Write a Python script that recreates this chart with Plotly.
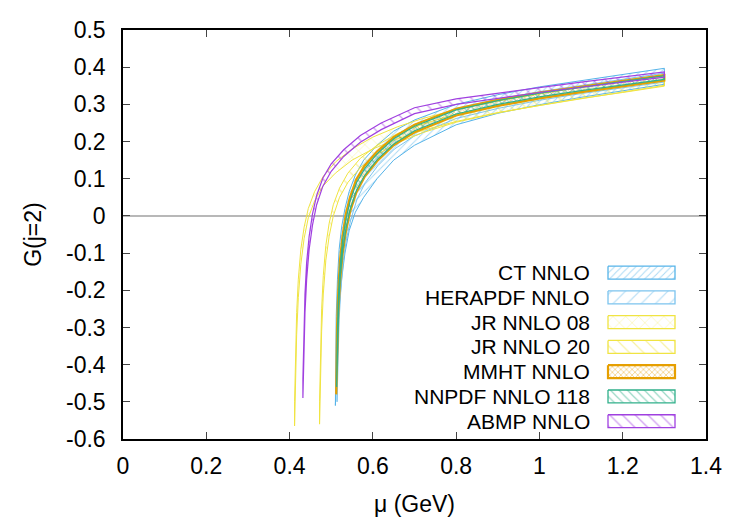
import plotly.graph_objects as go

# ---------------- data ----------------
set_names = ["CT NNLO", "HERAPDF NNLO", "JR NNLO 08", "JR NNLO 20",
             "MMHT NNLO", "NNPDF NNLO 118", "ABMP NNLO"]

mu_ct = [0.510, 0.512, 0.515, 0.519, 0.525, 0.533, 0.543, 0.558, 0.578, 0.61, 0.65, 0.70, 0.80, 0.90, 1.00, 1.10, 1.20, 1.30]
lo_ct = [-0.51, -0.42, -0.33, -0.25, -0.17, -0.10, -0.04, 0.01, 0.05, 0.10, 0.15, 0.19, 0.245, 0.276, 0.299, 0.319, 0.337, 0.354]
up_ct = [-0.40, -0.27, -0.17, -0.09, -0.03, 0.02, 0.065, 0.11, 0.15, 0.19, 0.228, 0.258, 0.300, 0.326, 0.347, 0.365, 0.381, 0.397]

mu_hera = [0.514, 0.516, 0.519, 0.523, 0.529, 0.537, 0.547, 0.562, 0.582, 0.612, 0.652, 0.70, 0.80, 0.90, 1.00, 1.10, 1.20, 1.30]
lo_hera = [-0.50, -0.38, -0.28, -0.20, -0.12, -0.06, -0.01, 0.045, 0.09, 0.135, 0.18, 0.215, 0.262, 0.289, 0.311, 0.329, 0.345, 0.36]
up_hera = [-0.42, -0.30, -0.20, -0.12, -0.055, 0.0, 0.05, 0.097, 0.135, 0.175, 0.215, 0.246, 0.289, 0.314, 0.334, 0.351, 0.367, 0.384]

mu_jr08 = [0.412, 0.414, 0.417, 0.421, 0.427, 0.435, 0.445, 0.46, 0.48, 0.51, 0.55, 0.60, 0.66, 0.72, 0.80, 0.90, 1.00, 1.10, 1.20, 1.30]
lo_jr08 = [-0.565, -0.44, -0.32, -0.22, -0.13, -0.06, -0.005, 0.04, 0.08, 0.115, 0.15, 0.18, 0.208, 0.23, 0.254, 0.278, 0.298, 0.316, 0.332, 0.349]
up_jr08 = [-0.50, -0.37, -0.26, -0.17, -0.09, -0.03, 0.02, 0.065, 0.105, 0.145, 0.18, 0.212, 0.24, 0.262, 0.286, 0.309, 0.328, 0.346, 0.362, 0.376]

mu_jr20 = [0.472, 0.474, 0.477, 0.481, 0.487, 0.495, 0.505, 0.52, 0.54, 0.57, 0.61, 0.66, 0.72, 0.80, 0.90, 1.00, 1.10, 1.20, 1.30]
lo_jr20 = [-0.56, -0.43, -0.31, -0.21, -0.12, -0.055, 0.0, 0.05, 0.09, 0.13, 0.165, 0.197, 0.224, 0.252, 0.277, 0.297, 0.316, 0.333, 0.351]
up_jr20 = [-0.50, -0.37, -0.25, -0.16, -0.08, -0.02, 0.03, 0.075, 0.115, 0.155, 0.19, 0.222, 0.247, 0.274, 0.297, 0.316, 0.334, 0.35, 0.366]

mu_mmht = [0.512, 0.514, 0.517, 0.521, 0.527, 0.535, 0.545, 0.56, 0.58, 0.61, 0.65, 0.70, 0.80, 0.90, 1.00, 1.10, 1.20, 1.30]
lo_mmht = [-0.48, -0.36, -0.26, -0.18, -0.105, -0.045, 0.01, 0.062, 0.105, 0.147, 0.19, 0.225, 0.270, 0.296, 0.316, 0.333, 0.348, 0.364]
up_mmht = [-0.42, -0.30, -0.20, -0.12, -0.055, 0.005, 0.05, 0.098, 0.135, 0.173, 0.212, 0.245, 0.288, 0.312, 0.332, 0.349, 0.364, 0.379]

mu_nnpdf = [0.513, 0.515, 0.518, 0.522, 0.528, 0.536, 0.546, 0.561, 0.581, 0.611, 0.651, 0.70, 0.80, 0.90, 1.00, 1.10, 1.20, 1.30]
lo_nnpdf = [-0.46, -0.34, -0.24, -0.16, -0.09, -0.03, 0.02, 0.07, 0.11, 0.152, 0.194, 0.229, 0.274, 0.300, 0.320, 0.337, 0.352, 0.367]
up_nnpdf = [-0.42, -0.30, -0.20, -0.125, -0.06, -0.005, 0.043, 0.09, 0.128, 0.168, 0.208, 0.241, 0.285, 0.310, 0.330, 0.347, 0.362, 0.377]

mu_abmp = [0.432, 0.434, 0.437, 0.441, 0.447, 0.455, 0.465, 0.48, 0.50, 0.53, 0.57, 0.62, 0.70, 0.80, 0.90, 1.00, 1.10, 1.20, 1.30]
lo_abmp = [-0.49, -0.37, -0.26, -0.17, -0.09, -0.025, 0.03, 0.08, 0.12, 0.16, 0.198, 0.232, 0.275, 0.300, 0.317, 0.332, 0.346, 0.36, 0.373]
up_abmp = [-0.44, -0.32, -0.21, -0.125, -0.055, 0.005, 0.055, 0.102, 0.14, 0.178, 0.216, 0.25, 0.291, 0.315, 0.331, 0.345, 0.36, 0.374, 0.387]

x_ticks = [0, 0.2, 0.4, 0.6, 0.8, 1.0, 1.2, 1.4]
x_ticklabels = ["0", "0.2", "0.4", "0.6", "0.8", "1", "1.2", "1.4"]
y_ticks = [-0.6, -0.5, -0.4, -0.3, -0.2, -0.1, 0, 0.1, 0.2, 0.3, 0.4, 0.5]
y_ticklabels = ["-0.6", "-0.5", "-0.4", "-0.3", "-0.2", "-0.1", "0", "0.1", "0.2", "0.3", "0.4", "0.5"]

bands = [
    (mu_ct, lo_ct, up_ct),
    (mu_hera, lo_hera, up_hera),
    (mu_jr08, lo_jr08, up_jr08),
    (mu_jr20, lo_jr20, up_jr20),
    (mu_mmht, lo_mmht, up_mmht),
    (mu_nnpdf, lo_nnpdf, up_nnpdf),
    (mu_abmp, lo_abmp, up_abmp),
]

# ---------------- styles ----------------
styles = [
    dict(color="#56B4E9", shape="/", size=5, width=1.0, solidity=0.2),
    dict(color="#7cc4ee", shape="/", size=10, width=1.0, solidity=0.12),
    dict(color="#F0E442", shape="x", size=9, width=1.0, solidity=0.12),
    dict(color="#F0E442", shape="\\", size=10, width=1.0, solidity=0.12),
    dict(color="#E69F00", shape="x", size=4, width=2.2, solidity=0.35),
    dict(color="#30b08a", shape="\\", size=6, width=1.2, solidity=0.2),
    dict(color="#a040e0", shape="\\", size=9, width=1.2, solidity=0.15),
]

FONT = "Liberation Sans, Arial, Helvetica, sans-serif"
FS = 23
FS_KEY = 21
W, H = 750, 525
L, R, T, B = 123, 44, 30, 82

fig = go.Figure()

for name, (mu, lo, up), st in zip(set_names, bands, styles):
    xs = list(mu) + list(mu[::-1]) + [mu[0]]
    ys = list(lo) + list(up[::-1]) + [lo[0]]
    fig.add_trace(go.Scatter(
        x=xs, y=ys, mode="lines", fill="toself",
        fillcolor="rgba(0,0,0,0)",
        fillpattern=dict(shape=st["shape"], fgcolor=st["color"], bgcolor="rgba(0,0,0,0)",
                         size=st["size"], solidity=st["solidity"], fillmode="overlay"),
        line=dict(color=st["color"], width=st["width"]),
        name=name, showlegend=False, hoverinfo="skip",
    ))

# ---------------- key (drawn on a hidden pixel-unit overlay axis) ----------------
px_x0, px_x1 = L, W - R
px_y0, px_y1 = T, H - B
key_top = 275
key_step = 25
key_box_x0, key_box_x1 = 608, 675
key_text_x = 592
for i, (name, st) in enumerate(zip(set_names, styles)):
    yc = key_top + i * key_step
    bx = [key_box_x0, key_box_x1, key_box_x1, key_box_x0, key_box_x0]
    by = [yc - 6.5, yc - 6.5, yc + 6.5, yc + 6.5, yc - 6.5]
    fig.add_trace(go.Scatter(
        x=bx, y=by, xaxis="x2", yaxis="y2", mode="lines", fill="toself",
        fillcolor="rgba(0,0,0,0)",
        fillpattern=dict(shape=st["shape"], fgcolor=st["color"], bgcolor="rgba(0,0,0,0)",
                         size=st["size"], solidity=st["solidity"], fillmode="overlay"),
        line=dict(color=st["color"], width=st["width"] if st["width"] > 1.5 else 1.3),
        showlegend=False, hoverinfo="skip",
    ))
    fig.add_annotation(x=key_text_x, y=yc, xref="x2", yref="y2", text=name,
                       showarrow=False, xanchor="right", yanchor="middle",
                       font=dict(family=FONT, size=FS_KEY, color="black"))

fig.update_layout(
    width=W, height=H,
    margin=dict(l=L, r=R, t=T, b=B),
    paper_bgcolor="white", plot_bgcolor="white",
    font=dict(family=FONT, size=FS, color="black"),
    showlegend=False,
    xaxis=dict(range=[0, 1.4], tickvals=x_ticks, ticktext=x_ticklabels,
               ticks="inside", ticklen=7, tickwidth=1, tickcolor="#444",
               showline=True, linecolor="black", linewidth=1.5, mirror="ticks",
               showgrid=False, zeroline=False, ticklabelstandoff=6,
               title=dict(text="\u03bc (GeV)", font=dict(family=FONT, size=FS), standoff=18),
               tickfont=dict(family=FONT, size=FS)),
    yaxis=dict(range=[-0.6, 0.5], tickvals=y_ticks, ticktext=y_ticklabels,
               ticks="inside", ticklen=7, tickwidth=1, tickcolor="#444",
               showline=True, linecolor="black", linewidth=1.5, mirror="ticks",
               showgrid=False, zeroline=True, zerolinecolor="#b8b8b8", zerolinewidth=1.5,
               ticklabelstandoff=11,
               title=dict(text="G(j=2)", font=dict(family=FONT, size=FS), standoff=18),
               tickfont=dict(family=FONT, size=FS)),
    xaxis2=dict(overlaying="x", range=[px_x0, px_x1], visible=False, fixedrange=True),
    yaxis2=dict(overlaying="y", range=[px_y1, px_y0], visible=False, fixedrange=True),
)

fig.write_html("out.html")
